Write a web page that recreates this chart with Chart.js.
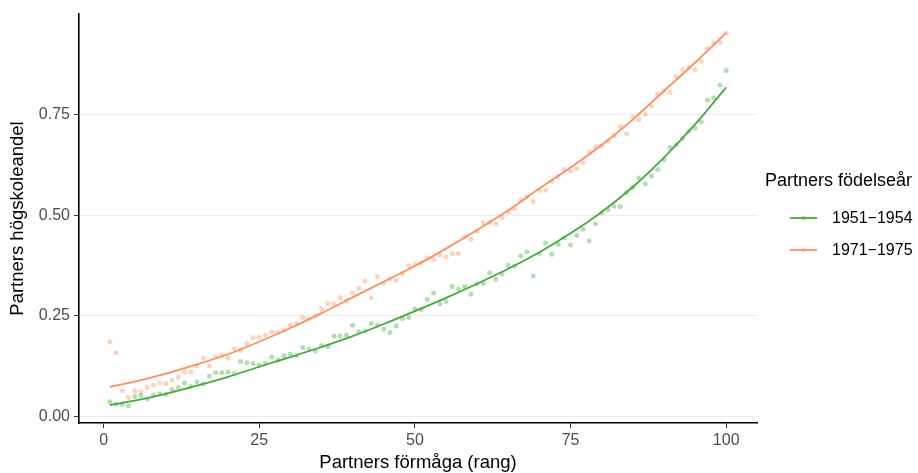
<!DOCTYPE html>
<html>
<head>
<meta charset="utf-8">
<script src="https://cdn.jsdelivr.net/npm/chart.js@4.4.1/dist/chart.umd.min.js"></script>
<style>
  html, body { margin: 0; padding: 0; background: #ffffff; }
  #wrap { width: 918px; height: 473px; }
</style>
</head>
<body>
<div id="wrap"><canvas id="c" width="918" height="473"></canvas></div>
<script>
// ---------- data ----------
const ranks = [1,2,3,4,5,6,7,8,9,10,11,12,13,14,15,16,17,18,19,20,
  21,22,23,24,25,26,27,28,29,30,31,32,33,34,35,36,37,38,39,40,
  41,42,43,44,45,46,47,48,49,50,51,52,53,54,55,56,57,58,59,60,
  61,62,63,64,65,66,67,68,69,70,71,72,73,74,75,76,77,78,79,80,
  81,82,83,84,85,86,87,88,89,90,91,92,93,94,95,96,97,98,99,100];

const share1951 = [0.037,0.031,0.031,0.027,0.050,0.053,0.044,0.054,0.057,0.056,
  0.067,0.073,0.084,0.075,0.087,0.081,0.101,0.110,0.109,0.111,
  0.107,0.137,0.134,0.132,0.128,0.133,0.148,0.141,0.151,0.155,
  0.151,0.172,0.168,0.163,0.177,0.174,0.200,0.200,0.203,0.227,
  0.211,0.213,0.232,0.227,0.217,0.209,0.225,0.244,0.246,0.268,
  0.266,0.291,0.307,0.280,0.286,0.323,0.316,0.323,0.304,0.330,
  0.331,0.357,0.341,0.354,0.376,0.374,0.399,0.409,0.349,0.405,
  0.431,0.403,0.428,0.444,0.426,0.450,0.465,0.436,0.479,0.506,
  0.514,0.522,0.521,0.556,0.569,0.592,0.578,0.597,0.613,0.638,
  0.668,0.675,0.691,0.708,0.716,0.731,0.785,0.791,0.823,0.859];

const share1971 = [0.186,0.159,0.065,0.048,0.064,0.062,0.073,0.078,0.084,0.082,
  0.091,0.098,0.111,0.111,0.126,0.145,0.126,0.149,0.153,0.145,
  0.169,0.165,0.182,0.196,0.197,0.203,0.210,0.209,0.215,0.227,
  0.231,0.246,0.244,0.250,0.268,0.281,0.280,0.295,0.288,0.307,
  0.318,0.337,0.295,0.347,0.331,0.342,0.339,0.356,0.375,0.378,
  0.382,0.394,0.390,0.401,0.396,0.405,0.405,0.446,0.440,0.460,
  0.481,0.482,0.478,0.494,0.507,0.516,0.537,0.547,0.534,0.562,
  0.562,0.584,0.596,0.613,0.609,0.615,0.630,0.657,0.669,0.672,
  0.684,0.697,0.720,0.702,0.743,0.737,0.751,0.771,0.800,0.809,
  0.804,0.844,0.861,0.866,0.861,0.882,0.913,0.927,0.929,0.951];

// fitted (smoothed) curves
const fitRanks = [1,5,10,15,20,25,30,35,40,45,50,55,60,65,70,75,80,85,90,95,100];
const fit1951 = [0.029,0.040,0.057,0.077,0.099,0.124,0.148,0.173,0.200,0.230,0.262,
  0.295,0.330,0.367,0.408,0.455,0.508,0.570,0.643,0.725,0.817];
const fit1971 = [0.074,0.087,0.107,0.130,0.155,0.186,0.220,0.257,0.296,0.335,0.374,
  0.417,0.463,0.512,0.566,0.618,0.674,0.737,0.808,0.878,0.952];

const seriesNames = ['1951\u22121954', '1971\u22121975'];
const xTicks = [0, 25, 50, 75, 100];
const yTicks = [0, 0.25, 0.50, 0.75];
const legendTitle = 'Partners födelseår';
const xTitle = 'Partners förmåga (rang)';
const yTitle = 'Partners högskoleandel';

// ---------- styles ----------
const GREEN = '#45aa3c';
const ORANGE = '#fa9060';
const GREEN_PT = 'rgba(77,175,74,0.42)';
const ORANGE_PT = 'rgba(250,144,96,0.40)';
const FONT = "'Liberation Sans', Arial, Helvetica, sans-serif";

const toXY = (xs, ys) => xs.map((x, i) => ({ x: x, y: ys[i] }));

const legendPlugin = {
  id: 'customLegend',
  afterDraw(chart) {
    const ctx = chart.ctx;
    ctx.save();
    ctx.fillStyle = '#000000';
    ctx.font = '18px ' + FONT;
    ctx.textAlign = 'left';
    ctx.textBaseline = 'middle';
    ctx.fillText(legendTitle, 765, 181);
    const items = [
      { label: seriesNames[0], line: GREEN, pt: GREEN_PT, y: 218 },
      { label: seriesNames[1], line: ORANGE, pt: ORANGE_PT, y: 250 }
    ];
    items.forEach(it => {
      ctx.strokeStyle = it.line;
      ctx.lineWidth = 1.8;
      ctx.beginPath();
      ctx.moveTo(790, it.y);
      ctx.lineTo(817, it.y);
      ctx.stroke();
      ctx.fillStyle = it.pt;
      ctx.beginPath();
      ctx.arc(803.5, it.y, 2.2, 0, Math.PI * 2);
      ctx.fill();
      ctx.fillStyle = '#000000';
      ctx.font = '16px ' + FONT;
      ctx.fillText(it.label, 832, it.y + 1);
    });
    ctx.restore();
  }
};

new Chart(document.getElementById('c'), {
  type: 'scatter',
  data: {
    datasets: [
      {
        type: 'line',
        label: seriesNames[0] + ' fit',
        data: toXY(fitRanks, fit1951),
        borderColor: GREEN,
        borderWidth: 1.8,
        pointRadius: 0,
        fill: false,
        cubicInterpolationMode: 'monotone',
        order: 0
      },
      {
        type: 'line',
        label: seriesNames[1] + ' fit',
        data: toXY(fitRanks, fit1971),
        borderColor: ORANGE,
        borderWidth: 1.8,
        pointRadius: 0,
        fill: false,
        cubicInterpolationMode: 'monotone',
        order: 0
      },
      {
        label: seriesNames[0],
        data: toXY(ranks, share1951),
        backgroundColor: GREEN_PT,
        borderWidth: 0,
        pointRadius: 2.5,
        order: 1
      },
      {
        label: seriesNames[1],
        data: toXY(ranks, share1971),
        backgroundColor: ORANGE_PT,
        borderWidth: 0,
        pointRadius: 2.5,
        order: 1
      }
    ]
  },
  options: {
    responsive: false,
    animation: false,
    devicePixelRatio: 1,
    layout: { padding: { top: 14, right: 161, left: 0, bottom: 0 } },
    plugins: { legend: { display: false }, tooltip: { enabled: false } },
    scales: {
      x: {
        type: 'linear',
        min: -3.95,
        max: 104.95,
        afterBuildTicks: (s) => { s.ticks = xTicks.map(v => ({ value: v })); },
        afterFit: (s) => { s.height = 50; },
        grid: { display: true, color: 'rgba(0,0,0,0)', tickColor: '#333333', tickLength: 5, drawTicks: true },
        border: { display: true, color: '#000000', width: 1.6 },
        ticks: { color: '#4d4d4d', font: { family: FONT, size: 16 }, padding: 3, maxRotation: 0,
                 callback: (v) => String(v) },
        title: { display: true, text: xTitle, color: '#000000', font: { family: FONT, size: 18.5 },
                 padding: { top: 0, bottom: -1.5 } }
      },
      y: {
        type: 'linear',
        min: -0.0155,
        max: 0.999,
        afterBuildTicks: (s) => { s.ticks = yTicks.map(v => ({ value: v })); },
        afterFit: (s) => { s.width = 79; },
        grid: { display: true, color: '#ebebeb', lineWidth: 1, tickColor: '#333333', tickLength: 5, drawTicks: true },
        border: { display: true, color: '#000000', width: 1.6 },
        ticks: { color: '#4d4d4d', font: { family: FONT, size: 16 }, padding: 4,
                 callback: (v) => Number(v).toFixed(2) },
        title: { display: true, text: yTitle, color: '#000000', font: { family: FONT, size: 18.5 },
                 padding: { top: 7, bottom: 0 } }
      }
    }
  },
  plugins: [legendPlugin]
});
</script>
</body>
</html>
